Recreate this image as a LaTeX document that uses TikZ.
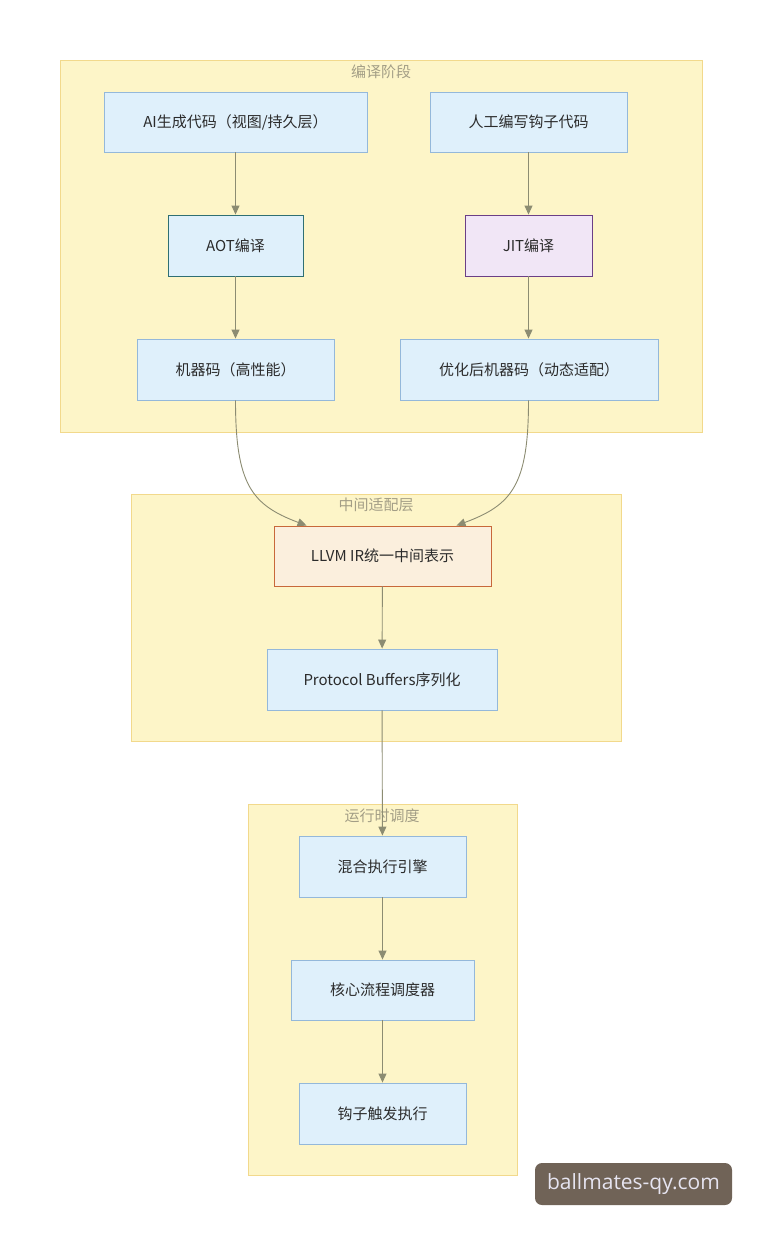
\documentclass[tikz,border=0pt]{standalone}
\usepackage{fontspec}
\setmainfont{Noto Sans CJK SC}
\newfontfamily\wmfont{Open Sans}
\usetikzlibrary{arrows.meta}
\definecolor{grpfill}{HTML}{FDF5C8}
\definecolor{grpdraw}{HTML}{F2D98C}
\definecolor{nodefill}{HTML}{DFF0FB}
\definecolor{nodedraw}{HTML}{94B8DA}
\definecolor{aotdraw}{HTML}{2F6F73}
\definecolor{jitfill}{HTML}{F1E6F6}
\definecolor{jitdraw}{HTML}{6B3F86}
\definecolor{llvmfill}{HTML}{FBEFDD}
\definecolor{llvmdraw}{HTML}{C8683A}
\definecolor{edgecol}{HTML}{8C8C72}
\definecolor{titlecol}{HTML}{A39E86}
\definecolor{textcol}{HTML}{2B2B2B}
\definecolor{wmfill}{HTML}{706357}
\definecolor{wmtext}{HTML}{E6E4F0}
\tikzset{
  grp/.style={draw=grpdraw, fill=grpfill, line width=0.9pt},
  grptitle/.style={text=titlecol, font=\fontsize{15}{17}\selectfont, inner sep=0pt},
  box/.style={draw=nodedraw, fill=nodefill, line width=0.9pt, inner sep=0pt,
    text=textcol, font=\fontsize{15}{17}\selectfont},
  edge/.style={draw=edgecol, line width=0.9pt, -{Triangle[length=9pt,width=8pt]}}
}
\begin{document}
\begin{tikzpicture}[x=1pt,y=-1pt]
\useasboundingbox (0,0) rectangle (762,1236);
\fill[white] (0,0) rectangle (762,1236);
% groups
\draw[grp] (60,60) rectangle (702,432);
\node[grptitle] (t1) at (381,72) {编译阶段};
\draw[grp] (131,494) rectangle (621,741);
\node[grptitle] (t2) at (376,505) {中间适配层};
\draw[grp] (248,804) rectangle (517,1175);
\node[grptitle] (t3) at (382,816) {运行时调度};
% nodes
\node[box, minimum width=263pt, minimum height=60pt] (ai) at (235.5,122) {AI生成代码（视图/持久层）};
\node[box, minimum width=197pt, minimum height=60pt] (hu) at (528.5,122) {人工编写钩子代码};
\node[box, draw=aotdraw, minimum width=135pt, minimum height=61pt] (aot) at (235.5,245.5) {AOT编译};
\node[box, draw=jitdraw, fill=jitfill, minimum width=127pt, minimum height=61pt] (jit) at (528.5,245.5) {JIT编译};
\node[box, minimum width=197pt, minimum height=61pt] (m1) at (235.5,369.5) {机器码（高性能）};
\node[box, minimum width=258pt, minimum height=61pt] (m2) at (529,369.5) {优化后机器码（动态适配）};
\node[box, draw=llvmdraw, fill=llvmfill, minimum width=217pt, minimum height=60pt] (llvm) at (382.5,556) {LLVM IR统一中间表示};
\node[box, minimum width=230pt, minimum height=61pt] (pb) at (382,679.5) {Protocol Buffers序列化};
\node[box, minimum width=167pt, minimum height=61pt] (mix) at (382.5,866.5) {混合执行引擎};
\node[box, minimum width=183pt, minimum height=60pt] (core) at (382.5,990) {核心流程调度器};
\node[box, minimum width=167pt, minimum height=61pt] (hook) at (382.5,1113.5) {钩子触发执行};
% edges
\draw[edge] (ai) -- (aot);
\draw[edge] (aot) -- (m1);
\draw[edge] (hu) -- (jit);
\draw[edge] (jit) -- (m2.north -| jit.south);
\coordinate (l1) at ([xshift=33pt]llvm.north west);
\coordinate (l2) at ([xshift=-35pt]llvm.north east);
\draw[edge] (m1.south) .. controls (235.5,485) and (252,505) .. (l1);
\draw[edge] (m2.south -| jit.south) .. controls (528.5,485) and (512,505) .. (l2);
\draw[edge] (llvm) -- (pb);
\draw[edge] (pb) -- (mix);
\draw[edge] (mix) -- (core);
\draw[edge] (core) -- (hook);
% watermark
\node[fill=wmfill, rounded corners=7pt, minimum width=197pt, minimum height=42pt, inner sep=0pt,
  text=wmtext, font=\wmfont\fontsize{21}{23}\selectfont] (wm) at (633.5,1184) {ballmates-qy.com};
\end{tikzpicture}
\end{document}
